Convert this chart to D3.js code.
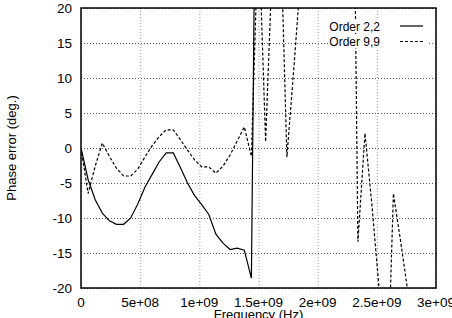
<!DOCTYPE html>
<html>
<head>
<meta charset="utf-8">
<script src="https://cdn.jsdelivr.net/npm/d3@7"></script>
<style>
  body { margin: 0; background: #fff; }
  text { font-family: "Liberation Sans", Arial, sans-serif; fill: #000; }
</style>
</head>
<body>
<svg id="plot"></svg>
<script>
const width = 452;
const height = 318;
const plot = {left: 81, right: 436, top: 8, bottom: 288};

// sample frequencies (Hz), one every 6e7
const freqHz = [
  0, 6e7, 1.2e8, 1.8e8, 2.4e8, 3e8, 3.6e8, 4.2e8, 4.8e8, 5.4e8,
  6e8, 6.6e8, 7.2e8, 7.8e8, 8.4e8, 9e8, 9.6e8, 1.02e9, 1.08e9, 1.14e9,
  1.2e9, 1.26e9, 1.32e9, 1.38e9, 1.44e9, 1.5e9, 1.56e9, 1.62e9, 1.68e9, 1.74e9,
  1.8e9, 1.86e9, 1.92e9, 1.98e9, 2.04e9, 2.1e9, 2.16e9, 2.22e9, 2.28e9, 2.34e9,
  2.4e9, 2.46e9, 2.52e9, 2.58e9, 2.64e9, 2.7e9, 2.76e9, 2.82e9, 2.88e9, 2.94e9,
  3e9
];

// phase error (deg.), null = off scale / not readable
const order22 = [
  0, -4.5, -7.4, -9.3, -10.4, -10.9, -10.9, -10.0, -8.0, -5.6,
  -3.8, -2.0, -0.7, -0.7, -2.8, -5.0, -6.8, -8.1, -9.5, -12.3,
  -13.6, -14.5, -14.3, -14.6, -18.6, 85, null, null, null, null,
  null, null, null, null, null, null, null, null, null, null,
  null, null, null, null, null, null, null, null, null, null,
  null
];
const order99 = [
  0, -6.5, -2.6, 0.7, -1.2, -2.9, -4.0, -4.0, -3.0, -1.3,
  0.3, 1.6, 2.6, 2.6, 1.2, -0.3, -1.7, -2.7, -2.7, -3.6,
  -2.6, -1.0, 1.0, 3.0, -1.2, 32, 0.9, 28, 35, -1.3,
  11.7, 25.4, null, null, null, null, null, null, 81, -13.4,
  2.1, -8.4, -20.3, -39.6, -6.5, -13.2, -20.3, null, null, null,
  null
];

const seriesNames = ['Order 2,2', 'Order 9,9'];
const seriesDash = [null, '3,2'];

const xTicks = [0, 5e8, 1e9, 1.5e9, 2e9, 2.5e9, 3e9];
const xTickLabels = ['0', '5e+08', '1e+09', '1.5e+09', '2e+09', '2.5e+09', '3e+09'];
const yTicks = [-20, -15, -10, -5, 0, 5, 10, 15, 20];

function main(){
  let svg = d3.select('svg#plot')
  .attr('width', width)
  .attr('height', height);

  let sx = d3.scaleLinear()
  .domain([0, 3e9])
  .range([plot.left, plot.right]);

  let sy = d3.scaleLinear()
  .domain([-20, 20])
  .range([plot.bottom, plot.top]);

  svg.append('defs')
  .append('clipPath')
  .attr('id', 'clip')
  .append('rect')
  .attr('x', plot.left)
  .attr('y', plot.top)
  .attr('width', plot.right - plot.left)
  .attr('height', plot.bottom - plot.top);

  // grid
  svg.append('g')
  .attr('transform', `translate(0,${plot.bottom})`)
  .call(d3.axisBottom(sx)
    .tickValues(xTicks)
    .tickSizeInner(-(plot.bottom - plot.top))
    .tickSizeOuter(0)
    .tickFormat(''))
  .call(g => g.select('.domain').remove())
  .call(g => g.selectAll('line')
    .attr('stroke', '#9a9a9a')
    .attr('stroke-dasharray', '1,2'));

  svg.append('g')
  .attr('transform', `translate(${plot.left},0)`)
  .call(d3.axisLeft(sy)
    .tickValues(yTicks)
    .tickSizeInner(-(plot.right - plot.left))
    .tickSizeOuter(0)
    .tickFormat(''))
  .call(g => g.select('.domain').remove())
  .call(g => g.selectAll('line')
    .attr('stroke', '#555')
    .attr('stroke-dasharray', '1,2'));

  // tick labels
  svg.append('g')
  .selectAll('text')
  .data(xTicks)
  .enter()
  .append('text')
  .attr('x', d => sx(d))
  .attr('y', 306.5)
  .attr('text-anchor', 'middle')
  .attr('font-size', 13.5)
  .text((d, i) => xTickLabels[i]);

  svg.append('g')
  .selectAll('text')
  .data(yTicks)
  .enter()
  .append('text')
  .attr('x', 72)
  .attr('y', d => sy(d) + 5)
  .attr('text-anchor', 'end')
  .attr('font-size', 13.5)
  .text(d => d);

  // series
  let line = d3.line()
  .defined(d => d[1] !== null)
  .x(d => sx(d[0]))
  .y(d => sy(d[1]));

  let lines = svg.append('g')
  .attr('clip-path', 'url(#clip)');

  [order22, order99].forEach((vals, i) => {
    lines.append('path')
    .datum(freqHz.map((f, k) => [f, vals[k]]))
    .attr('d', line)
    .attr('fill', 'none')
    .attr('stroke', '#000')
    .attr('stroke-width', 1.2)
    .attr('stroke-dasharray', seriesDash[i]);
  });

  // border
  svg.append('rect')
  .attr('x', plot.left)
  .attr('y', plot.top)
  .attr('width', plot.right - plot.left)
  .attr('height', plot.bottom - plot.top)
  .attr('fill', 'none')
  .attr('stroke', '#000')
  .attr('stroke-width', 1.5);

  // legend
  let legend = svg.append('g');
  seriesNames.forEach((name, i) => {
    let y = 26 + i * 15.5;
    legend.append('rect')
    .attr('x', 328)
    .attr('y', y - 7)
    .attr('width', 100)
    .attr('height', 14)
    .attr('fill', '#fff');
    legend.append('text')
    .attr('x', 380)
    .attr('y', y + 4.5)
    .attr('text-anchor', 'end')
    .attr('font-size', 12)
    .text(name);
    legend.append('line')
    .attr('x1', 400)
    .attr('x2', 423)
    .attr('y1', y)
    .attr('y2', y)
    .attr('stroke', '#000')
    .attr('stroke-width', 1.2)
    .attr('stroke-dasharray', seriesDash[i]);
  });

  // axis titles
  svg.append('text')
  .attr('x', (plot.left + plot.right) / 2)
  .attr('y', 319)
  .attr('text-anchor', 'middle')
  .attr('font-size', 13)
  .text('Frequency (Hz)');

  svg.append('text')
  .attr('transform', `translate(16,${(plot.top + plot.bottom) / 2}) rotate(-90)`)
  .attr('text-anchor', 'middle')
  .attr('font-size', 13)
  .text('Phase error (deg.)');
}

document.addEventListener('DOMContentLoaded', main);
</script>
</body>
</html>
